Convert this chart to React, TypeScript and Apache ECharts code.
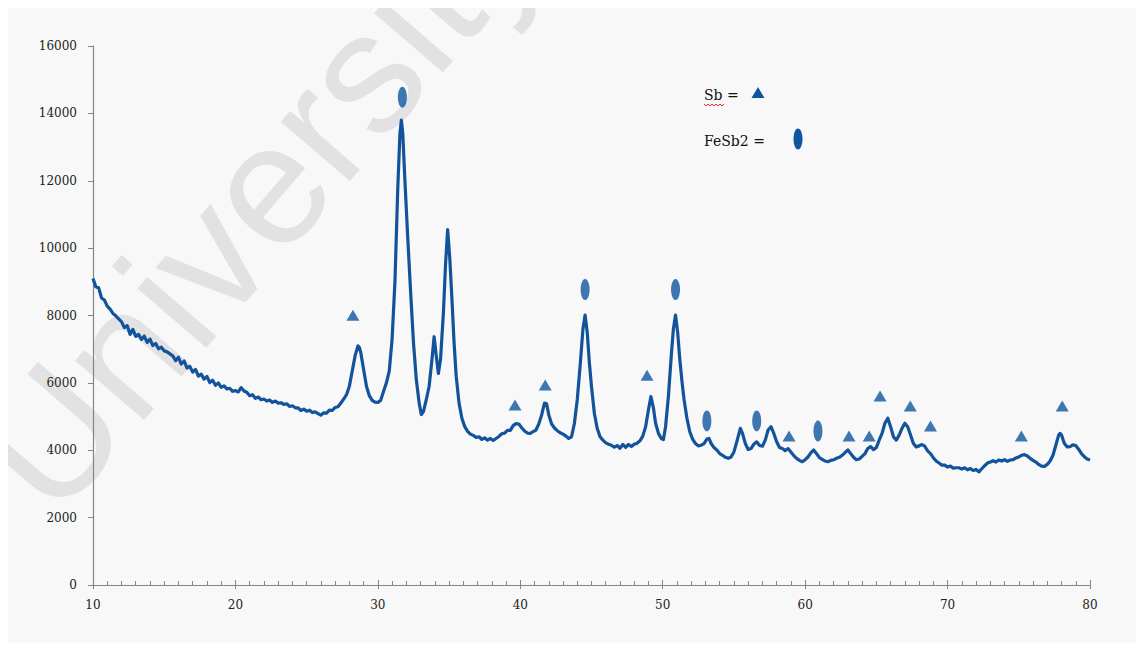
import React, { useEffect, useRef } from "react";
import * as echarts from "echarts";

// XRD pattern: 2-theta (degrees) vs. intensity (counts)
const lowAngleBackground: [number, number][] = [
  [10.0, 9100], [10.2, 8850], [10.4, 8820], [10.6, 8520], [10.8, 8460], [11.0, 8280],
  [11.2, 8190], [11.4, 8060], [11.6, 7990], [11.8, 7900], [12.0, 7820], [12.2, 7640],
  [12.4, 7700], [12.6, 7440], [12.8, 7590], [13.0, 7380], [13.2, 7440], [13.4, 7290],
  [13.6, 7390], [13.8, 7200], [14.0, 7300], [14.2, 7110], [14.4, 7170], [14.6, 7010],
  [14.8, 7060], [15.0, 6950], [15.2, 6920], [15.4, 6860], [15.6, 6800], [15.8, 6660],
  [16.0, 6760], [16.2, 6560], [16.4, 6650], [16.6, 6440], [16.8, 6490], [17.0, 6320],
  [17.2, 6400], [17.4, 6200], [17.6, 6260], [17.8, 6110], [18.0, 6190], [18.2, 6010],
  [18.4, 6080], [18.6, 5930], [18.8, 6000], [19.0, 5870], [19.2, 5910], [19.4, 5820],
  [19.6, 5840], [19.8, 5750], [20.0, 5770], [20.2, 5730], [20.4, 5860], [20.6, 5760],
  [20.8, 5720], [21.0, 5620], [21.2, 5650], [21.4, 5540], [21.6, 5580], [21.8, 5500],
  [22.0, 5520], [22.2, 5460], [22.4, 5490], [22.6, 5420], [22.8, 5460], [23.0, 5400],
  [23.2, 5410], [23.4, 5360], [23.6, 5380], [23.8, 5300], [24.0, 5320], [24.2, 5260],
  [24.4, 5260], [24.6, 5180], [24.8, 5220], [25.0, 5160], [25.2, 5190], [25.4, 5120],
  [25.6, 5140], [25.8, 5090], [26.0, 5040], [26.2, 5110], [26.4, 5100], [26.6, 5190],
  [26.8, 5180], [27.0, 5270], [27.2, 5290], [27.4, 5400],
];

const mainPeakRegion: [number, number][] = [
  [27.6, 5520], [27.8, 5650], [28.0, 5900], [28.2, 6350], [28.4, 6800], [28.6, 7100],
  [28.7, 7050], [28.8, 6900], [29.0, 6400], [29.2, 5900], [29.4, 5620], [29.6, 5480],
  [29.8, 5430], [30.0, 5420], [30.2, 5480], [30.4, 5750], [30.6, 6000], [30.8, 6350],
  [31.0, 7300], [31.2, 9000], [31.4, 11800], [31.55, 13400], [31.65, 13800], [31.75, 13400],
  [31.9, 12000], [32.1, 10300], [32.3, 8700], [32.5, 7200], [32.7, 6100], [32.9, 5400],
  [33.05, 5060], [33.2, 5150], [33.4, 5500], [33.6, 5900], [33.8, 6700], [33.95, 7370],
  [34.1, 6800], [34.25, 6280], [34.4, 6700], [34.6, 8064], [34.75, 9500], [34.9, 10550],
  [35.05, 9700], [35.2, 8500], [35.35, 7200], [35.5, 6200], [35.7, 5400], [35.9, 4950],
  [36.1, 4700], [36.3, 4560], [36.5, 4480], [36.7, 4440], [36.9, 4380],
];

const midAngleRegion: [number, number][] = [
  [37.1, 4400], [37.3, 4320], [37.5, 4370], [37.7, 4300], [37.9, 4350], [38.1, 4290],
  [38.3, 4350], [38.5, 4410], [38.7, 4490], [38.9, 4510], [39.1, 4590], [39.3, 4590],
  [39.5, 4730], [39.7, 4790], [39.9, 4780], [40.1, 4670], [40.3, 4570], [40.5, 4510],
  [40.7, 4500], [40.9, 4550], [41.1, 4600], [41.3, 4780], [41.5, 5050], [41.7, 5400],
  [41.85, 5380], [42.0, 5050], [42.2, 4780], [42.4, 4660], [42.6, 4580], [42.8, 4520],
  [43.0, 4480], [43.2, 4420], [43.4, 4350], [43.6, 4400], [43.8, 4800], [44.0, 5500],
  [44.2, 6500], [44.4, 7600], [44.55, 8013], [44.7, 7500], [44.85, 6600], [45.0, 5886],
  [45.2, 5100], [45.4, 4650], [45.6, 4400], [45.8, 4300], [46.0, 4220], [46.2, 4180],
  [46.4, 4150], [46.6, 4090], [46.8, 4140], [47.0, 4060], [47.2, 4170], [47.4, 4090],
  [47.6, 4170], [47.8, 4110], [48.0, 4180], [48.2, 4210], [48.4, 4280], [48.6, 4420],
  [48.8, 4700], [49.0, 5200], [49.17, 5590], [49.35, 5250], [49.5, 4800], [49.7, 4500],
  [49.9, 4350], [50.05, 4320], [50.2, 4700], [50.4, 5600], [50.6, 6800], [50.75, 7600],
  [50.9, 8013], [51.05, 7500], [51.2, 6700], [51.35, 6050], [51.5, 5500], [51.7, 4950],
  [51.9, 4550], [52.1, 4330], [52.3, 4200], [52.5, 4130], [52.7, 4150], [52.9, 4200],
  [53.1, 4330], [53.25, 4350], [53.4, 4200], [53.6, 4080], [53.8, 4010], [54.0, 3900],
  [54.2, 3850], [54.4, 3790], [54.6, 3760], [54.8, 3800], [55.0, 3950], [55.2, 4250],
  [55.45, 4650], [55.6, 4500], [55.8, 4200], [56.0, 4020], [56.2, 4050], [56.4, 4180],
  [56.6, 4250], [56.8, 4140], [57.0, 4120], [57.2, 4300], [57.4, 4600], [57.6, 4700],
  [57.8, 4500], [58.0, 4250], [58.2, 4080], [58.4, 4050], [58.6, 3990], [58.8, 4050],
  [59.0, 3950], [59.2, 3840], [59.4, 3760], [59.6, 3700], [59.8, 3660],
];

const highAngleRegion: [number, number][] = [
  [60.0, 3720], [60.2, 3800], [60.4, 3920], [60.6, 4010], [60.8, 3900], [61.0, 3780],
  [61.2, 3730], [61.4, 3680], [61.6, 3660], [61.8, 3700], [62.0, 3720], [62.2, 3760],
  [62.4, 3790], [62.6, 3850], [62.8, 3930], [63.0, 4010], [63.2, 3900], [63.4, 3790],
  [63.6, 3720], [63.8, 3740], [64.0, 3820], [64.2, 3900], [64.4, 4050], [64.6, 4110],
  [64.8, 4020], [65.0, 4080], [65.2, 4300], [65.4, 4500], [65.6, 4800], [65.8, 4950],
  [66.0, 4700], [66.2, 4400], [66.4, 4300], [66.6, 4450], [66.8, 4650], [67.0, 4800],
  [67.2, 4700], [67.4, 4450], [67.6, 4200], [67.8, 4100], [68.0, 4130], [68.2, 4170],
  [68.4, 4120], [68.6, 3980], [68.8, 3900], [69.0, 3780], [69.2, 3680], [69.4, 3620],
  [69.6, 3560], [69.8, 3560], [70.0, 3500], [70.2, 3530], [70.4, 3470], [70.6, 3480],
  [70.8, 3480], [71.0, 3440], [71.2, 3480], [71.4, 3420], [71.6, 3460], [71.8, 3400],
  [72.0, 3430], [72.2, 3360], [72.4, 3450], [72.6, 3540], [72.8, 3620], [73.0, 3650],
  [73.2, 3690], [73.4, 3650], [73.6, 3710], [73.8, 3680], [74.0, 3720], [74.2, 3670],
  [74.4, 3710], [74.6, 3720], [74.8, 3770], [75.0, 3800], [75.2, 3850], [75.4, 3870],
  [75.6, 3830], [75.8, 3760], [76.0, 3700], [76.2, 3650], [76.4, 3580], [76.6, 3530],
  [76.8, 3520], [77.0, 3580], [77.2, 3680], [77.4, 3850], [77.6, 4150], [77.8, 4450],
  [77.9, 4500], [78.0, 4450], [78.2, 4200], [78.4, 4100], [78.6, 4110], [78.8, 4160],
  [79.0, 4140], [79.2, 4030], [79.4, 3900], [79.6, 3810], [79.8, 3740], [80.0, 3710],
];

// Phase markers placed above the peaks they identify
const sbMarkers: [number, number][] = [
  [28.25, 8010], [39.63, 5340], [41.75, 5940], [48.9, 6230], [58.87, 4420], [63.08, 4420],
  [64.5, 4420], [65.26, 5610], [67.38, 5310], [68.8, 4720], [75.18, 4420], [78.05, 5310],
];
const feSb2Markers: [number, number][] = [
  [31.72, 14480], [44.55, 8770], [50.9, 8770], [53.1, 4870], [56.6, 4870], [60.9, 4570],
];

const yTicks = { min: 0, max: 16000, interval: 2000 };
const xTicks = { min: 10, max: 80, interval: 10 };

const LINE_BLUE = "#12539b";
const MARK_BLUE = "#0f55a0";
const AXIS_GRAY = "#858585";
const SERIF = "'DejaVu Serif', 'Liberation Serif', serif";

export default function App() {
  const ref = useRef<HTMLDivElement>(null);

  useEffect(() => {
    if (!ref.current) return;
    const chart = echarts.init(ref.current, null, { renderer: "svg" });
    const pattern = [
      ...lowAngleBackground,
      ...mainPeakRegion,
      ...midAngleRegion,
      ...highAngleRegion,
    ];

    // red spell-check squiggle under "Sb"
    const squiggle: number[][] = [];
    for (let i = 0; i <= 10; i++) squiggle.push([698 + i * 2, i % 2 === 0 ? 96 : 98]);

    chart.setOption({
      animation: false,
      backgroundColor: "#f8f8f8",
      grid: { left: 87, right: 50, top: 38, bottom: 58, containLabel: false },
      xAxis: [
        {
          type: "value",
          min: xTicks.min,
          max: xTicks.max,
          interval: xTicks.interval,
          axisLine: { show: true, onZero: false, lineStyle: { color: AXIS_GRAY, width: 1.2 } },
          axisTick: { show: true, inside: true, length: 5, lineStyle: { color: AXIS_GRAY } },
          minorTick: { show: true, splitNumber: 10, length: 4, lineStyle: { color: AXIS_GRAY } },
          splitLine: { show: false },
          axisLabel: {
            margin: 14,
            color: "#222",
            fontFamily: SERIF,
            fontSize: 12,
          },
        },
        {
          type: "value",
          min: xTicks.min,
          max: xTicks.max,
          interval: xTicks.interval,
          position: "bottom",
          axisLine: { show: false },
          axisTick: { show: true, inside: false, length: 4, lineStyle: { color: AXIS_GRAY } },
          axisLabel: { show: false },
          splitLine: { show: false },
        },
      ],
      yAxis: {
        type: "value",
        min: yTicks.min,
        max: yTicks.max,
        interval: yTicks.interval,
        axisLine: { show: true, lineStyle: { color: AXIS_GRAY, width: 1.2 } },
        axisTick: { show: true, inside: false, length: 5, lineStyle: { color: AXIS_GRAY } },
        splitLine: { show: false },
        axisLabel: {
          margin: 16,
          color: "#222",
          fontFamily: SERIF,
          fontSize: 12,
          formatter: (v: number) => String(v),
        },
      },
      graphic: [
        {
          type: "text",
          silent: true,
          z: -10,
          x: 250,
          y: 190,
          rotation: 0.86,
          style: {
            text: "University",
            fill: "#e2e2e2",
            font: "172px 'Liberation Sans', Arial, sans-serif",
            textAlign: "center",
            textVerticalAlign: "middle",
          },
        },
        {
          type: "text",
          z: 10,
          x: 698,
          y: 87,
          style: {
            text: "Sb =",
            fill: "#111",
            font: `14px ${SERIF}`,
            textAlign: "left",
            textVerticalAlign: "middle",
          },
        },
        {
          type: "polyline",
          z: 10,
          shape: { points: squiggle },
          style: { stroke: "#e03030", lineWidth: 1, fill: null },
        },
        {
          type: "polygon",
          z: 10,
          shape: { points: [[752, 79], [758.5, 90], [745.5, 90]] },
          style: { fill: MARK_BLUE },
        },
        {
          type: "text",
          z: 10,
          x: 698,
          y: 133,
          style: {
            text: "FeSb2 =",
            fill: "#111",
            font: `14px ${SERIF}`,
            textAlign: "left",
            textVerticalAlign: "middle",
          },
        },
        {
          type: "ellipse",
          z: 10,
          shape: { cx: 792, cy: 131, rx: 4.5, ry: 10.5 },
          style: { fill: MARK_BLUE },
        },
      ],
      series: [
        {
          name: "XRD",
          type: "line",
          data: pattern,
          showSymbol: false,
          symbol: "none",
          lineStyle: { color: LINE_BLUE, width: 3.2, join: "round" },
          z: 3,
        },
        {
          name: "Sb",
          type: "scatter",
          data: sbMarkers,
          symbol: "triangle",
          symbolSize: [13, 11],
          itemStyle: { color: MARK_BLUE },
          z: 4,
        },
        {
          name: "FeSb2",
          type: "scatter",
          data: feSb2Markers,
          symbol: "circle",
          symbolSize: [9, 21],
          itemStyle: { color: MARK_BLUE },
          z: 4,
        },
      ],
    });

    return () => chart.dispose();
  }, []);

  return <div ref={ref} style={{ width: 1134, height: 635, marginLeft: -2 }} />;
}
